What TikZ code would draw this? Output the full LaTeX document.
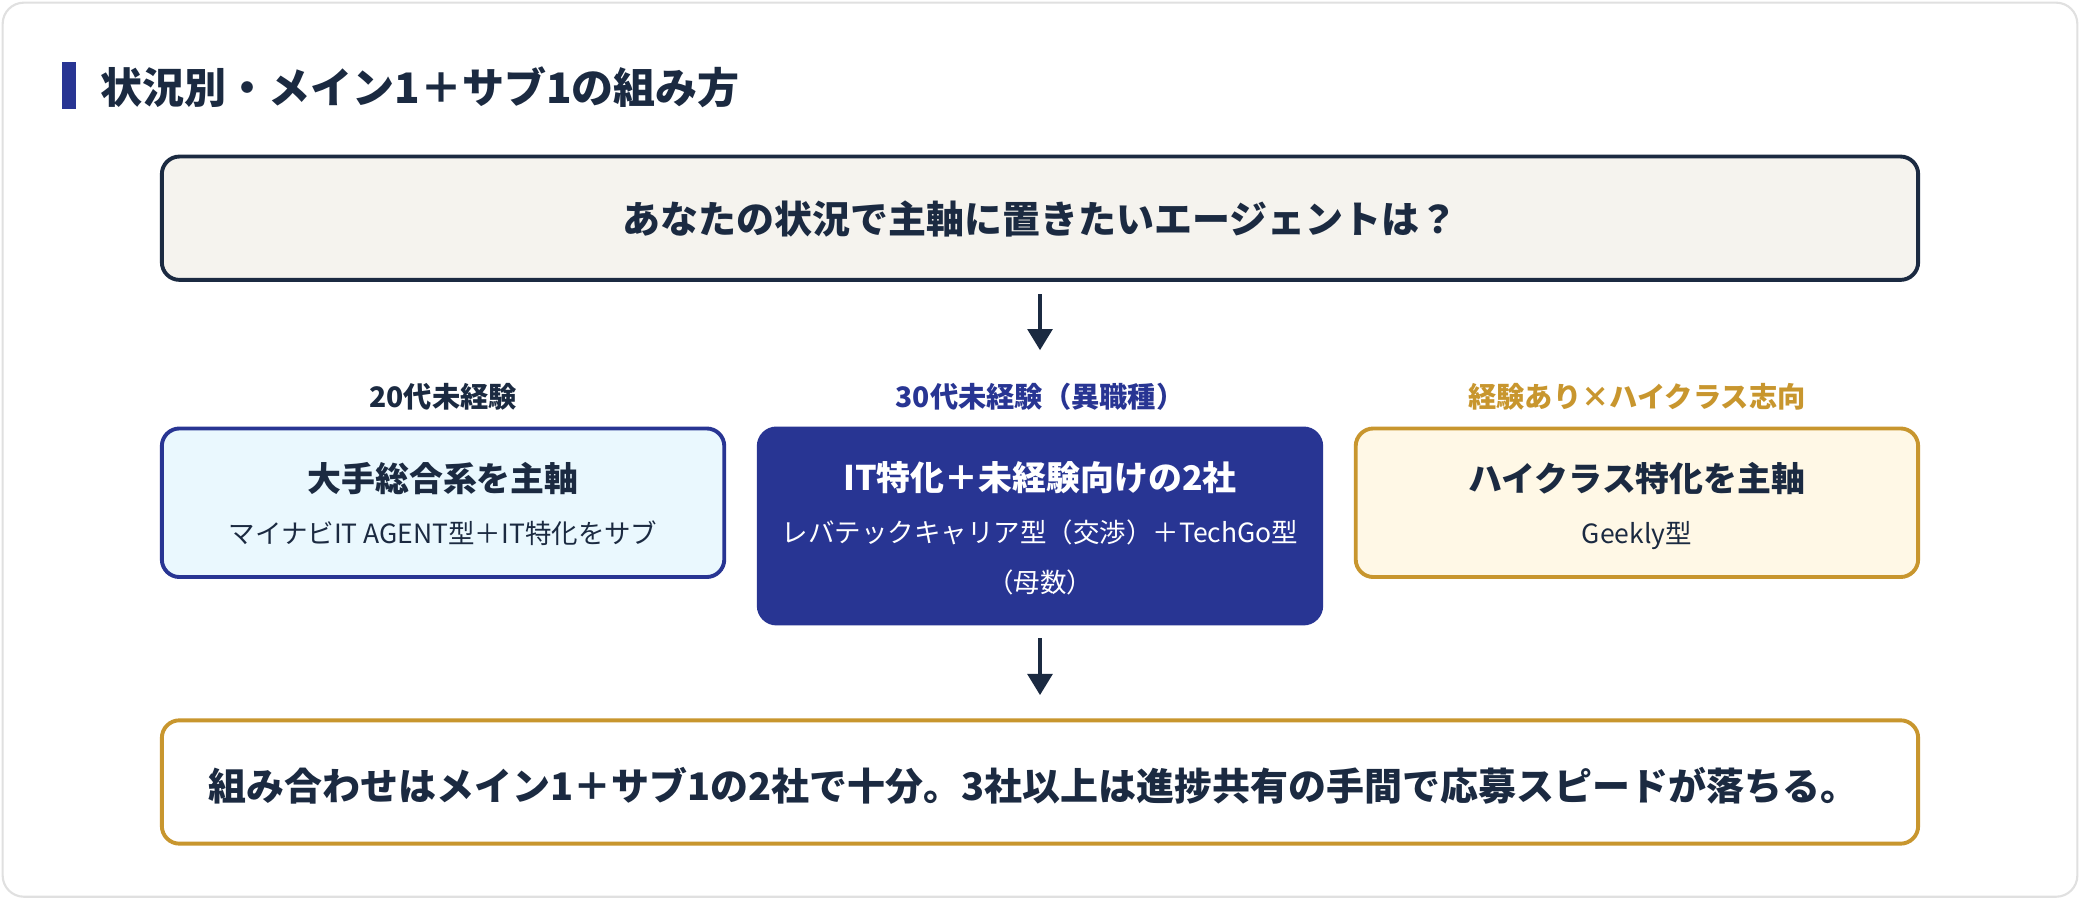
\documentclass[tikz,border=0pt]{standalone}
\usepackage{fontspec}
\setmainfont{Noto Sans CJK JP}
\usetikzlibrary{arrows.meta}
\definecolor{navy}{HTML}{1B2A41}
\definecolor{indi}{HTML}{283593}
\definecolor{gold}{HTML}{C8962E}
\definecolor{qfill}{HTML}{F5F3EE}
\definecolor{bfill}{HTML}{EAF8FE}
\definecolor{yfill}{HTML}{FFF8E6}
\begin{document}
\begin{tikzpicture}[x=0.0132cm,y=-0.0132cm,
  box/.style={draw,line width=1.1pt,rounded corners=5pt,anchor=north west,inner sep=0},
  arr/.style={draw=navy,line width=1.1pt,-{Triangle[length=6pt,width=7pt]}},
  big/.style={font=\fontsize{11.9}{13}\selectfont\bfseries,text=navy},
  q/.style={font=\fontsize{10.75}{12}\selectfont\bfseries,text=navy},
  bt/.style={font=\fontsize{9.6}{11}\selectfont\bfseries},
  st/.style={font=\fontsize{7.5}{9}\selectfont},
  lb/.style={font=\fontsize{8}{9}\selectfont\bfseries}]
\useasboundingbox (0,0) rectangle (1568,678);
\draw[draw=black!12,fill=white,rounded corners=6pt,line width=0.6pt] (2,2) rectangle (1566,676);
\fill[indi] (47,47) rectangle (57,82);
\node[big,anchor=west,inner sep=0] (title) at (75,66) {状況別・メイン1＋サブ1の組み方};
\draw[box,draw=navy,fill=qfill] (122,118) rectangle (1446,211);
\node[q] (qq) at (784,165) {あなたの状況で主軸に置きたいエージェントは？};
\coordinate (a1) at (784,222); \coordinate (a2) at (784,264);
\draw[arr] (a1) -- (a2);
\node[lb,text=navy] (l1) at (334,299) {20代未経験};
\node[lb,text=indi] (l2) at (784,299) {30代未経験（異職種）};
\node[lb,text=gold] (l3) at (1234,299) {経験あり×ハイクラス志向};
\draw[box,draw=indi,fill=bfill] (122,323) rectangle (546,435);
\node[bt,text=navy] (b1) at (334,361) {大手総合系を主軸};
\node[st,text=navy] (s1) at (334,402) {マイナビIT AGENT型＋IT特化をサブ};
\draw[box,draw=indi,fill=indi] (572,323) rectangle (996,470);
\node[bt,text=white] (b2) at (784,360) {IT特化＋未経験向けの2社};
\node[st,text=white] (s2) at (784,401) {レバテックキャリア型（交渉）＋TechGo型};
\node[st,text=white] (s2b) at (784,439) {（母数）};
\draw[box,draw=gold,fill=yfill] (1022,323) rectangle (1446,435);
\node[bt,text=navy] (b3) at (1234,361) {ハイクラス特化を主軸};
\node[st,text=navy] (s3) at (1234,404) {Geekly型};
\coordinate (c1) at (784,481); \coordinate (c2) at (784,524);
\draw[arr] (c1) -- (c2);
\draw[box,draw=gold,fill=white] (122,543) rectangle (1446,636);
\node[q] (bb) at (779,592) {組み合わせはメイン1＋サブ1の2社で十分。3社以上は進捗共有の手間で応募スピードが落ちる。};
\end{tikzpicture}
\end{document}
